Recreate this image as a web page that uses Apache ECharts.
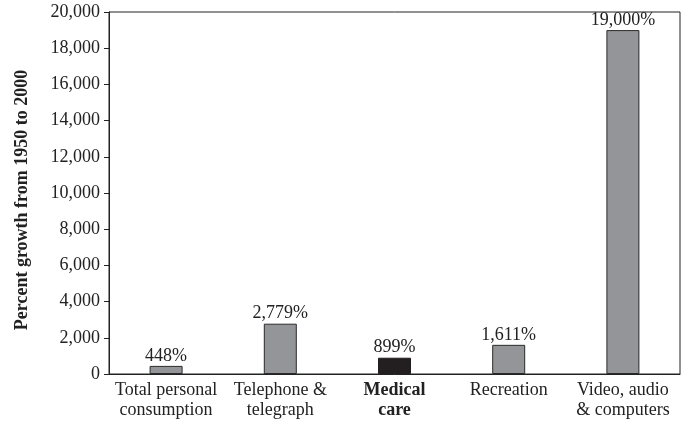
<!DOCTYPE html>
<html>
<head>
<meta charset="utf-8">
<script src="https://cdn.jsdelivr.net/npm/echarts@6/dist/echarts.min.js"></script>
<style>
  html, body { margin: 0; padding: 0; background: #fff; }
  #chart { width: 681px; height: 425px; }
</style>
</head>
<body>
<div id="chart"></div>
<script>
// Growth in spending categories, 1950 to 2000
const categories = [
  'Total personal\nconsumption',
  'Telephone &\ntelegraph',
  'Medical\ncare',
  'Recreation',
  'Video, audio\n& computers'
];
const growthPercent = [448, 2779, 899, 1611, 19000];
const highlightIndex = 2;
const yTicks = [0, 2000, 4000, 6000, 8000, 10000, 12000, 14000, 16000, 18000, 20000];

const FONT = '"Liberation Serif", "Times New Roman", serif';
const fmt = v => v.toLocaleString('en-US');

const chart = echarts.init(document.getElementById('chart'), null, { renderer: 'canvas' });

chart.setOption({
  animation: false,
  backgroundColor: '#fff',
  grid: {
    left: 109, right: 1, top: 12, bottom: 51,
    show: true, borderColor: '#222', borderWidth: 1
  },
  xAxis: {
    type: 'category',
    data: categories,
    axisLine: { lineStyle: { color: '#222', width: 1 } },
    axisTick: { show: false },
    axisLabel: {
      interval: 0,
      margin: 6,
      fontFamily: FONT,
      fontSize: 18,
      color: '#222',
      lineHeight: 20,
      formatter: (v, i) => i === highlightIndex
        ? v.split('\n').map(s => '{b|' + s + '}').join('\n')
        : v,
      rich: {
        b: { fontFamily: FONT, fontSize: 18, fontWeight: 'bold', color: '#222', lineHeight: 20 }
      }
    }
  },
  yAxis: {
    type: 'value',
    min: yTicks[0],
    max: yTicks[yTicks.length - 1],
    interval: yTicks[1] - yTicks[0],
    name: 'Percent growth from 1950 to 2000',
    nameLocation: 'middle',
    nameGap: 78,
    nameTextStyle: {
      fontFamily: FONT, fontSize: 18, fontWeight: 'bold', color: '#222',
      padding: [0, 14, 0, 0]
    },
    axisLine: { show: true, lineStyle: { color: '#222', width: 1 } },
    axisTick: { show: true, length: 5, lineStyle: { color: '#222' } },
    splitLine: { show: false },
    axisLabel: {
      margin: 9,
      fontFamily: FONT,
      fontSize: 18,
      color: '#222',
      formatter: v => fmt(v)
    }
  },
  series: [{
    type: 'bar',
    barWidth: 33,
    data: growthPercent.map((v, i) => ({
      value: v,
      itemStyle: i === highlightIndex
        ? { color: '#231f20', borderColor: '#231f20', borderWidth: 1 }
        : { color: '#939598', borderColor: '#2a2a2a', borderWidth: 1 }
    })),
    label: {
      show: true,
      position: 'top',
      distance: 1,
      fontFamily: FONT,
      fontSize: 18,
      color: '#222',
      formatter: p => fmt(p.value) + '%'
    }
  }]
});
</script>
</body>
</html>
